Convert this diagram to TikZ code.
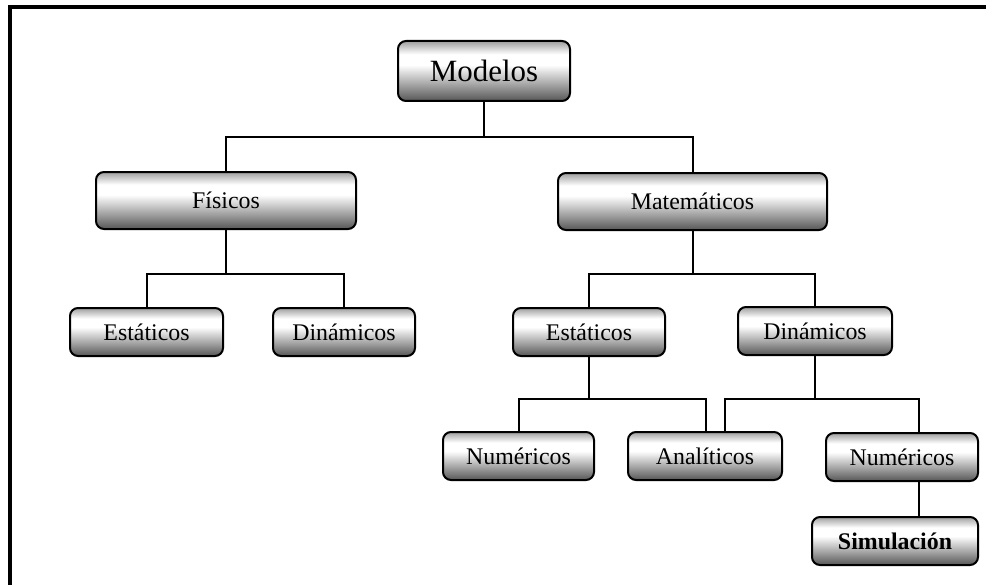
\documentclass[tikz,border=0pt]{standalone}
\usepackage{fontspec}
\setmainfont{Liberation Serif}
\usetikzlibrary{calc}

% Grey bar shading of the boxes (25bp = bottom, 75bp = top).
\pgfdeclareverticalshading{boxshade}{100bp}{%
    color(0bp)=(black!66); color(25bp)=(black!66);
    color(55bp)=(white); color(64bp)=(white);
    color(75bp)=(black!38); color(100bp)=(black!38)}

\begin{document}
\begin{tikzpicture}[%
        x = 0.75pt,
        y = -0.75pt,
        line width = 1.5pt,
        line cap = rect,
        box/.style = {%
            draw,
            rounded corners = 6pt,
            shading = boxshade,
            inner sep = 0pt,
            minimum height = 36pt,
            font = \fontsize{17.9}{20}\selectfont
        }
    ]

        \useasboundingbox (0, 0) rectangle (986, 585);

        % Frame (only the left and top edges are inside the picture).
        \draw[line width = 2.4pt] (10, 590) -- (10, 7) -- (990, 7);

        % Levels of the horizontal connectors.
        \coordinate (lvl1) at (0, 137);
        \coordinate (lvl2) at (0, 274);
        \coordinate (lvl3) at (0, 399);

        % Boxes.
        \node[box, minimum width = 129pt, minimum height = 45pt,
              font = \fontsize{23.2}{27}\selectfont] (mod) at (484, 71) {Modelos};

        \node[box, minimum width = 195pt, minimum height = 42.75pt] (fis) at (226, 200.5) {Físicos};
        \node[box, minimum width = 201.75pt, minimum height = 42.75pt] (mat) at (692.5, 201.5) {Matemáticos};

        \node[box, minimum width = 114.75pt] (festa) at (146.5, 332) {Estáticos};
        \node[box, minimum width = 106.5pt] (fdin) at (344, 332) {Dinámicos};
        \node[box, minimum width = 114pt] (mesta) at (589, 332) {Estáticos};
        \node[box, minimum width = 115.5pt] (mdin) at (815, 331) {Dinámicos};

        \node[box, minimum width = 113.25pt] (mnum) at (518.5, 456) {Numéricos};
        \node[box, minimum width = 115.5pt] (mana) at (705, 456) {Analíticos};
        \node[box, minimum width = 114pt] (mnumd) at (902, 457) {Numéricos};

        \node[box, minimum width = 124.5pt, font = \fontsize{17.9}{20}\selectfont\bfseries]
            (sim) at (895, 541) {Simulación};

        % Free ends of the connectors on the lower boxes.
        \coordinate (mana_a) at ([xshift = 0.75pt]mana.north);
        \coordinate (mana_b) at ([xshift = 15pt]mana.north);
        \coordinate (mnumd_a) at ([xshift = 12.75pt]mnumd.north);
        \coordinate (mnumd_b) at ([xshift = 12.75pt]mnumd.south);

        % Connectors.
        \draw (mod.south) -- (mod.south |- lvl1);
        \draw (fis.north) |- (mat.north |- lvl1) -- (mat.north);

        \draw (fis.south) -- (fis.south |- lvl2);
        \draw (festa.north) |- (fdin.north |- lvl2) -- (fdin.north);
        \draw (mat.south) -- (mat.south |- lvl2);
        \draw (mesta.north) |- (mdin.north |- lvl2) -- (mdin.north);

        \draw (mesta.south) -- (mesta.south |- lvl3);
        \draw (mnum.north) |- (mana_a |- lvl3) -- (mana_a);
        \draw (mdin.south) -- (mdin.south |- lvl3);
        \draw (mana_b) |- (mnumd_a |- lvl3) -- (mnumd_a);

        \draw (mnumd_b) -- (mnumd_b |- sim.north);
    \end{tikzpicture}
\end{document}
